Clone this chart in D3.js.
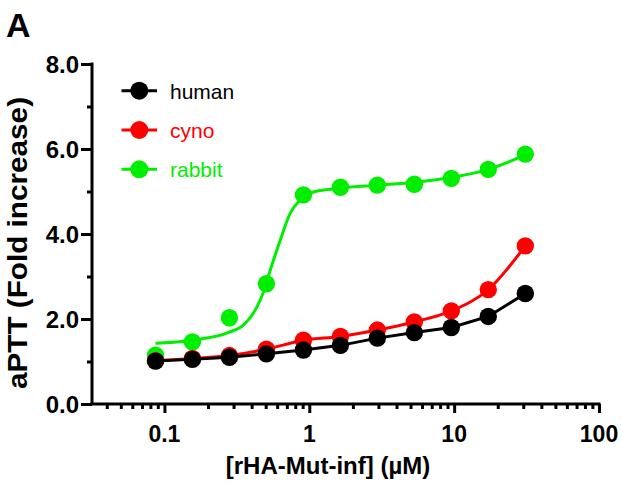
<!DOCTYPE html>
<html>
<head>
<meta charset="utf-8">
<script src="https://cdn.jsdelivr.net/npm/d3@7"></script>
<style>
  html, body { margin: 0; padding: 0; background: #fff; }
  svg { display: block; font-family: Arial, "Liberation Sans", Helvetica, sans-serif; }
</style>
</head>
<body>
<svg id="chart" width="623" height="483"></svg>
<script>
// ---- data ----
const concentrations = [0.0868, 0.156, 0.281, 0.506, 0.911, 1.64, 2.95, 5.31, 9.56, 17.2, 31.0];
const humanValues  = [1.01, 1.05, 1.10, 1.18, 1.27, 1.38, 1.55, 1.68, 1.80, 2.06, 2.60];
const cynoValues   = [1.02, 1.07, 1.14, 1.29, 1.50, 1.59, 1.74, 1.93, 2.19, 2.69, 3.72];
const rabbitValues = [1.15, 1.46, 2.03, 2.83, 4.92, 5.10, 5.15, 5.17, 5.31, 5.52, 5.88];
// fitted curve for rabbit
const rabbitFitX = [0.0868, 0.156, 0.281, 0.352, 0.436, 0.484, 0.538, 0.631, 0.739, 0.867, 1.016, 1.30, 1.64, 2.95, 5.31, 9.56, 17.2, 31.0];
const rabbitFitY = [1.43, 1.50, 1.69, 1.86, 2.29, 2.64, 3.15, 3.86, 4.49, 4.80, 4.96, 5.04, 5.08, 5.15, 5.22, 5.33, 5.52, 5.86];
const seriesNames = ["human", "cyno", "rabbit"];
const seriesColors = ["#000000", "#ff0000", "#00ee00"];
const xMajorTicks = [0.1, 1, 10, 100];
const xMajorLabels = ["0.1", "1", "10", "100"];
const yMajorTicks = [0, 2, 4, 6, 8];
const yMajorLabels = ["0.0", "2.0", "4.0", "6.0", "8.0"];
const yMinorTicks = [1, 3, 5, 7];
const xTitle = "[rHA-Mut-inf] (\u00b5M)";
const yTitle = "aPTT (Fold increase)";
const panelLabel = "A";

// ---- layout ----
const svg = d3.select("#chart");
const x = d3.scaleLog().domain([Math.pow(10, -1.5), 100]).range([92, 599]);
const y = d3.scaleLinear().domain([0, 8]).range([404, 64]);

const xMinorTicks = [];
[0.01, 0.1, 1, 10].forEach(d => { for (let k = 2; k <= 9; k++) { const v = d * k; if (v >= x.domain()[0] && v < 100) xMinorTicks.push(v); } });

// axes
const axisStroke = 3;
const gx = svg.append("g").attr("transform", `translate(0,${y(0)})`);
gx.call(d3.axisBottom(x).tickValues(xMinorTicks).tickSize(5).tickSizeOuter(0).tickFormat(""));
gx.call(g => g.select(".domain").remove());
const gx2 = svg.append("g").attr("transform", `translate(0,${y(0)})`);
gx2.call(d3.axisBottom(x).tickValues(xMajorTicks).tickSize(9).tickSizeOuter(0).tickFormat(""));
[gx, gx2].forEach(g => {
  g.selectAll("line").attr("stroke", "#000").attr("stroke-width", axisStroke);
  g.selectAll(".domain").attr("stroke", "#000").attr("stroke-width", axisStroke);
});
gx2.select(".domain").attr("d", `M${x.range()[0] - 1.5},0H${x.range()[1] + 1.5}`);

const gy = svg.append("g").attr("transform", `translate(${x.range()[0]},0)`);
gy.call(d3.axisLeft(y).tickValues(yMinorTicks).tickSize(5).tickSizeOuter(0).tickFormat(""));
gy.call(g => g.select(".domain").remove());
const gy2 = svg.append("g").attr("transform", `translate(${x.range()[0]},0)`);
gy2.call(d3.axisLeft(y).tickValues(yMajorTicks).tickSize(11).tickSizeOuter(0).tickFormat(""));
[gy, gy2].forEach(g => {
  g.selectAll("line").attr("stroke", "#000").attr("stroke-width", axisStroke);
  g.selectAll(".domain").attr("stroke", "#000").attr("stroke-width", axisStroke);
});
gy2.select(".domain").attr("d", `M0,${y.range()[1] - 1.5}V${y.range()[0]}`);

// tick labels
svg.append("g").selectAll("text").data(xMajorTicks).join("text")
  .attr("x", d => x(d)).attr("y", 442)
  .attr("text-anchor", "middle").attr("font-size", 23).attr("font-weight", "bold")
  .text((d, i) => xMajorLabels[i]);
svg.append("g").selectAll("text").data(yMajorTicks).join("text")
  .attr("x", 79).attr("y", d => y(d) + 8.5)
  .attr("text-anchor", "end").attr("font-size", 24).attr("font-weight", "bold")
  .text((d, i) => yMajorLabels[i]);

// titles
svg.append("text").attr("x", 328).attr("y", 474).attr("text-anchor", "middle")
  .attr("font-size", 24).attr("font-weight", "bold").text(xTitle);
svg.append("text").attr("transform", "translate(27,243) rotate(-90) scale(1.1,1)").attr("text-anchor", "middle")
  .attr("font-size", 27).attr("font-weight", "bold").text(yTitle);
svg.append("text").attr("x", 6).attr("y", 37).attr("font-size", 34).attr("font-weight", "bold").text(panelLabel);

// data
const allValues = [humanValues, cynoValues, rabbitValues];
const lineLinear = d3.line().x(d => x(d[0])).y(d => y(d[1]));
const lineSmooth = d3.line().x(d => x(d[0])).y(d => y(d[1])).curve(d3.curveMonotoneX);

const drawOrder = [2, 1, 0];
drawOrder.forEach(si => {
  const color = seriesColors[si];
  const g = svg.append("g");
  let pathData, gen;
  if (si === 2) { pathData = rabbitFitX.map((v, i) => [v, rabbitFitY[i]]); gen = lineSmooth; }
  else if (si === 1) { pathData = concentrations.map((v, i) => [v, cynoValues[i]]); gen = lineSmooth; }
  else { pathData = concentrations.map((v, i) => [v, humanValues[i]]); gen = lineLinear; }
  g.append("path").attr("d", gen(pathData)).attr("fill", "none").attr("stroke", color).attr("stroke-width", 3);
  g.selectAll("circle").data(concentrations.map((v, i) => [v, allValues[si][i]])).join("circle")
    .attr("cx", d => x(d[0])).attr("cy", d => y(d[1])).attr("r", 8.7).attr("fill", color);
});

// legend
const legend = svg.append("g");
seriesNames.forEach((name, i) => {
  const cy = 90.7 + i * 39.3;
  legend.append("line").attr("x1", 121.5).attr("x2", 157).attr("y1", cy).attr("y2", cy)
    .attr("stroke", seriesColors[i]).attr("stroke-width", 3);
  legend.append("circle").attr("cx", 139.3).attr("cy", cy).attr("r", 9).attr("fill", seriesColors[i]);
  legend.append("text").attr("x", 170).attr("y", cy + 8).attr("font-size", 21)
    .attr("fill", seriesColors[i]).text(name);
});
</script>
</body>
</html>
